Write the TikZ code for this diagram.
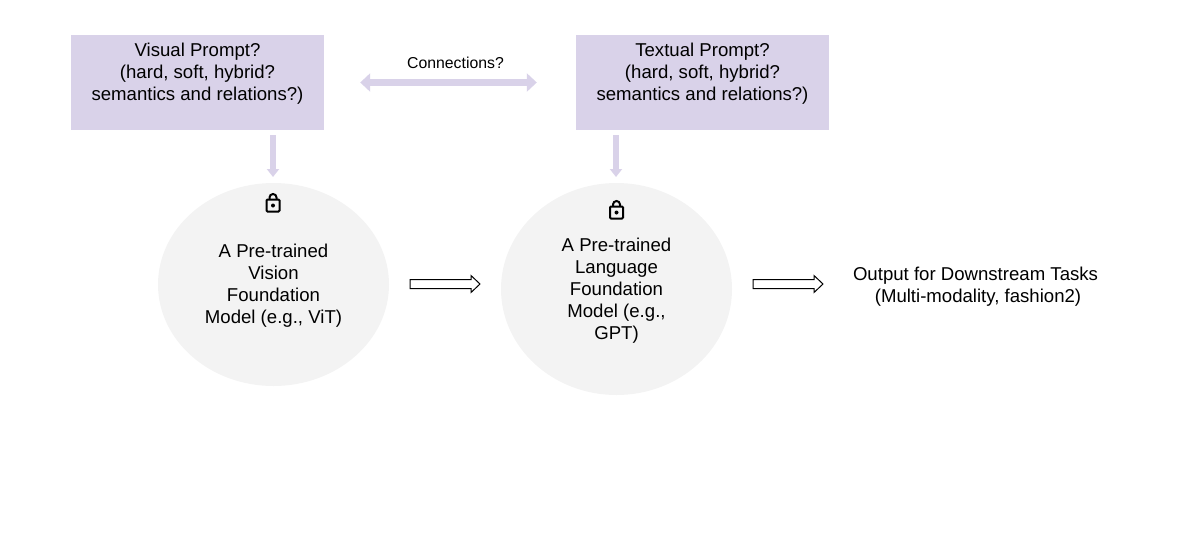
\documentclass[tikz,border=0pt]{standalone}
\usepackage{fontspec}
\setmainfont{Liberation Sans}
\usetikzlibrary{arrows.meta,calc,shapes.geometric}
\definecolor{lav}{HTML}{D9D2E9}
\definecolor{lgray}{HTML}{F3F3F3}
\tikzset{
  x=1pt,y=-1pt,
  promptbox/.style={fill=lav,draw=none,minimum width=253pt,minimum height=95pt,inner sep=0pt},
  found/.style={ellipse,fill=lgray,draw=none,inner sep=0pt,minimum width=231pt},
  body/.style={align=center,font=\fontsize{18.6pt}{22pt}\selectfont,inner sep=0pt},
  thick arrow/.style={draw=lav,line width=6.5pt,-{Triangle[length=8pt,width=12pt]}},
  both arrow/.style={draw=lav,line width=7.5pt,{Triangle[length=10pt,width=18pt]}-{Triangle[length=10pt,width=18pt]}},
  hollow/.style={draw=black,fill=white,line width=1pt,line join=miter,
    to path={let \p1=(\tikztostart),\p2=(\tikztotarget) in
      (\x1,\y1+4.5pt) -- (\x2-9pt,\y1+4.5pt) -- (\x2-9pt,\y1+8.5pt) -- (\x2,\y1)
      -- (\x2-9pt,\y1-8.5pt) -- (\x2-9pt,\y1-4.5pt) -- (\x1,\y1-4.5pt) -- cycle}},
  pics/lock/.style={code={
    \draw[black,line width=2pt,rounded corners=1pt] (-6.5,-3.5) rectangle (6.5,8.5);
    \draw[black,line width=2pt] (-3.5,-3.5) -- (-3.5,-5.5) arc[start angle=180,end angle=0,radius=3.5pt] -- (3.5,-3.5);
    \fill[black] (0,2.5) circle[radius=2pt];
  }}
}
\begin{document}
\begin{tikzpicture}
\useasboundingbox (0,0) rectangle (1185,536);
\node[promptbox] (vis) at (197.5,82.5) {};
\node[promptbox] (txt) at (702.5,82.5) {};
\node[body] (vist) at (197.5,74) {Visual Prompt?\\(hard, soft, hybrid?\\semantics and relations?)};
\node[body] (txtt) at (702.5,74) {Textual Prompt?\\(hard, soft, hybrid?\\semantics and relations?)};
\node[font=\fontsize{15.8pt}{18pt}\selectfont,inner sep=0pt] (conn) at (455.5,63) {Connections?};
\node[found,minimum height=203pt] (e1) at (273.5,284.5) {};
\node[found,minimum height=212pt] (e2) at (616.5,289) {};
\node[body] (e1t) at (273.5,285.5) {A Pre-trained\\Vision\\Foundation\\Model (e.g., ViT)};
\node[body] (e2t) at (616.5,291) {A Pre-trained\\Language\\Foundation\\Model (e.g.,\\GPT)};
\node[body] (out) at (975.5,286.5) {Output for Downstream Tasks\\\hspace*{5pt}(Multi-modality, fashion2)};
\coordinate (c1) at (273,130);
\coordinate (c2) at (273,183);
\coordinate (c3) at (616,130);
\coordinate (c4) at (616,183);
\coordinate (a1) at (410,284);
\coordinate (a2) at (480,284);
\coordinate (a3) at (753,284);
\coordinate (a4) at (823,284);
\draw[thick arrow,shorten <=5pt,shorten >=6pt] (c1) -- (c2);
\draw[thick arrow,shorten <=5pt,shorten >=6pt] (c3) -- (c4);
\draw[both arrow,shorten <=36pt,shorten >=39pt] (vis.east) -- (txt.west);
\draw[hollow] (a1) to (a2);
\draw[hollow] (a3) to (a4);
\pic at (273,203) {lock};
\pic at (616.5,210) {lock};
\end{tikzpicture}
\end{document}
